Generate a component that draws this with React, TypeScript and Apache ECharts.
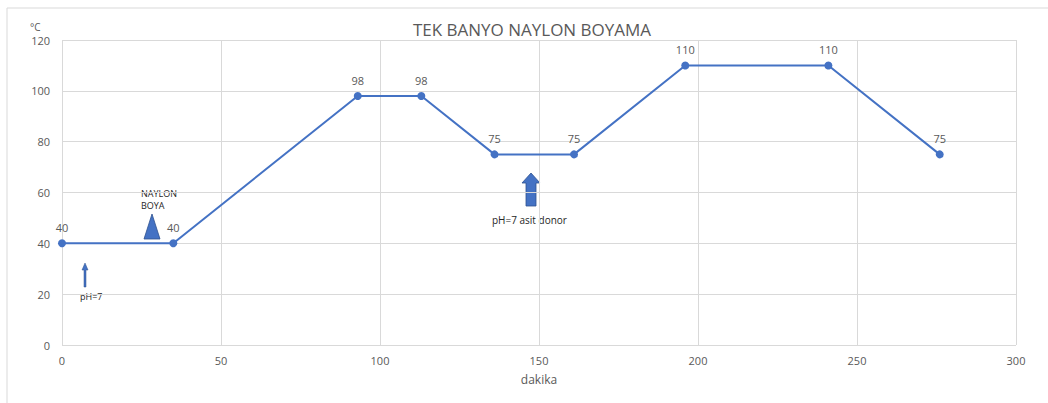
import React, { useEffect, useRef } from "react";
import * as echarts from "echarts";

const minutes = [0, 35, 93, 113, 136, 161, 196, 241, 276];
const temps = [40, 40, 98, 98, 75, 75, 110, 110, 75];
const xTicks = [0, 50, 100, 150, 200, 250, 300];
const yTicks = [0, 20, 40, 60, 80, 100, 120];
const title = "TEK BANYO NAYLON BOYAMA";
const xName = "dakika";
const yName = "°C";
const notes = ["NAYLON", "BOYA", "pH=7", "pH=7 asit donor"];

const BLUE = "#4472c4";
const GRAY = "#595959";
const FONT = "'Open Sans', 'Noto Sans', sans-serif";

export default function App() {
  const ref = useRef<HTMLDivElement>(null);
  useEffect(() => {
    if (!ref.current) return;
    const chart = echarts.init(ref.current, undefined, { renderer: "svg" });
    chart.setOption({
      animation: false,
      backgroundColor: "#ffffff",
      textStyle: { fontFamily: FONT },
      title: {
        text: title,
        left: 527,
        top: 16,
        textAlign: "center",
        textStyle: { color: GRAY, fontSize: 17, fontWeight: "normal", fontFamily: FONT },
      },
      grid: { left: 62, right: 32, top: 40, bottom: 58, containLabel: false },
      xAxis: {
        type: "value",
        min: xTicks[0],
        max: xTicks[xTicks.length - 1],
        interval: 50,
        name: xName,
        nameLocation: "middle",
        nameGap: 28,
        nameTextStyle: { color: GRAY, fontSize: 12, fontFamily: FONT },
        axisLine: { show: false },
        axisTick: { show: false },
        axisLabel: { color: GRAY, fontSize: 11, margin: 10, fontFamily: FONT },
        splitLine: { show: true, lineStyle: { color: "#d9d9d9", width: 1 } },
      },
      yAxis: {
        type: "value",
        min: yTicks[0],
        max: yTicks[yTicks.length - 1],
        interval: 20,
        axisLine: { show: false },
        axisTick: { show: false },
        axisLabel: { color: GRAY, fontSize: 11, margin: 12, fontFamily: FONT },
        splitLine: { show: true, lineStyle: { color: "#d9d9d9", width: 1 } },
      },
      series: [
        {
          type: "line",
          data: minutes.map((m, i) => [m, temps[i]]),
          symbol: "circle",
          symbolSize: 8,
          lineStyle: { color: BLUE, width: 2 },
          itemStyle: { color: BLUE },
          label: {
            show: true,
            position: "top",
            distance: 6,
            color: GRAY,
            fontSize: 11,
            fontFamily: FONT,
            formatter: (p: any) => String(p.value[1]),
          },
        },
      ],
      graphic: [
        {
          type: "rect",
          shape: { x: 7, y: 8, width: 1200, height: 600 },
          style: { fill: "none", stroke: "#d9d9d9", lineWidth: 1 },
          silent: true,
          z: -1,
        },
        {
          type: "text",
          x: 30,
          y: 22,
          style: { text: yName, fill: GRAY, fontSize: 10, fontFamily: FONT },
        },
        // thin up arrow pH=7
        {
          type: "polygon",
          shape: {
            points: [
              [85, 263], [88, 270], [86, 270], [86, 287], [84, 287], [84, 270], [82, 270],
            ],
          },
          style: { fill: BLUE, stroke: "#2f528f", lineWidth: 0.5 },
        },
        {
          type: "text",
          x: 80,
          y: 292,
          style: { text: notes[2], fill: "#262626", fontSize: 9, fontFamily: FONT },
        },
        // triangle NAYLON BOYA
        {
          type: "polygon",
          shape: { points: [[152, 214], [160, 239], [144, 239]] },
          style: { fill: BLUE, stroke: "#2f528f", lineWidth: 0.8 },
        },
        {
          type: "text",
          x: 141,
          y: 187,
          style: { text: notes[0] + "\n" + notes[1], fill: "#262626", fontSize: 9, lineHeight: 12, fontFamily: FONT },
        },
        // block arrow
        {
          type: "polygon",
          shape: {
            points: [
              [531, 173], [540, 183], [536, 183], [536, 206], [526, 206], [526, 183], [522, 183],
            ],
          },
          style: { fill: BLUE, stroke: "#2f528f", lineWidth: 0.8 },
        },
        {
          type: "text",
          x: 492,
          y: 215,
          style: { text: notes[3], fill: "#262626", fontSize: 10, fontFamily: FONT },
        },
      ],
    });
    return () => chart.dispose();
  }, []);
  return <div ref={ref} style={{ width: 1048, height: 403, position: "absolute", left: 0, top: 0 }} />;
}
